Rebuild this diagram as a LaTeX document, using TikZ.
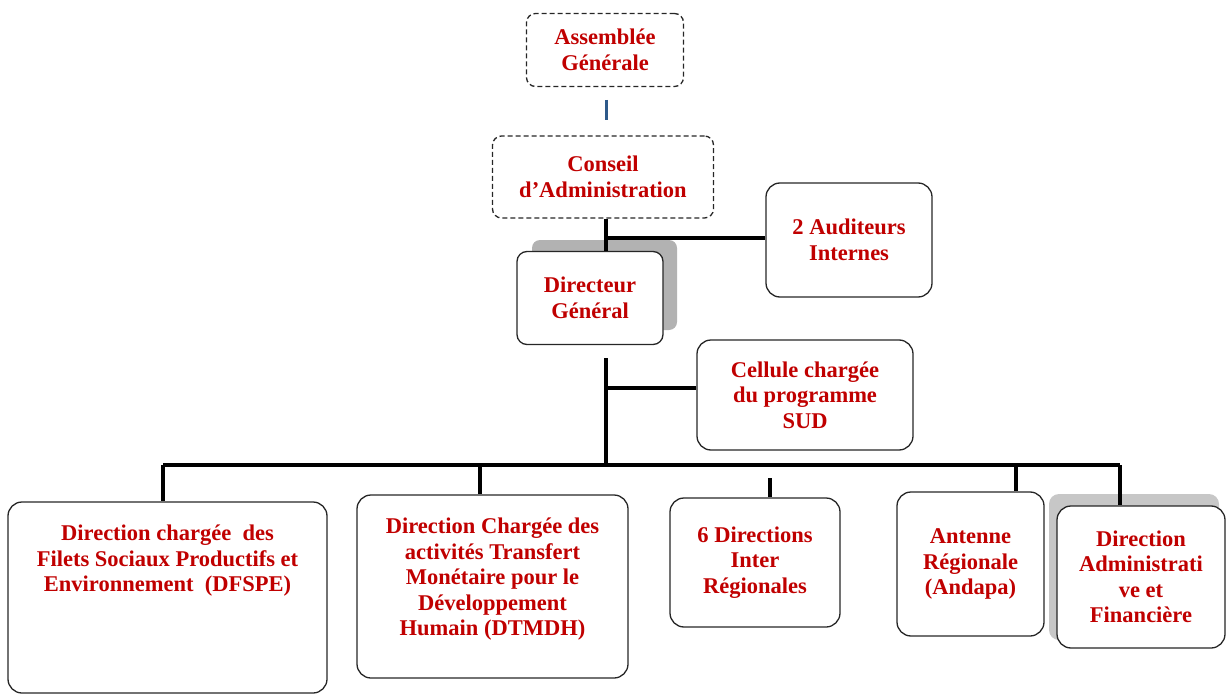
\documentclass[tikz,border=0pt]{standalone}
\usepackage{fontspec}
\setmainfont{Liberation Serif}
\definecolor{titlered}{HTML}{C00000}
\definecolor{linkblue}{HTML}{2E5A8A}

\begin{document}
\begin{tikzpicture}[x=1pt, y=-1pt,
  every node/.style={font=\bfseries\fontsize{22.5}{25.5}\selectfont, text=titlered, align=center},
  box/.style={draw=black!85, line width=1.3pt, rounded corners=14pt, inner sep=0pt},
  dashbox/.style={box, dash pattern=on 5pt off 3pt, rounded corners=9pt},
  toptext/.style={label={[anchor=north, yshift=-20pt]north:#1}},
  link/.style={line width=4.5pt, black}]
\useasboundingbox (0,0) rectangle (1226,695);
% shadows
\fill[black!30, rounded corners=8pt] (532,240) rectangle (677,330);
\fill[black!22, rounded corners=10pt] (1049,494) rectangle (1219,640);
% top levels
\node[dashbox, minimum width=157pt, minimum height=73pt] (AG) at (605,50) {Assemblée\\Générale};
\node[dashbox, minimum width=221pt, minimum height=82pt] (CA) at (603,177) {Conseil\\d’Administration};
\node[box, fill=white, minimum width=146pt, minimum height=93pt, rounded corners=10pt] (DG) at (590,298) {Directeur\\Général};
\node[box, minimum width=166pt, minimum height=114pt] (AUD) at (849,240) {2 Auditeurs\\Internes};
\node[box, minimum width=216pt, minimum height=110pt] (CEL) at (805,395) {Cellule chargée\\du programme\\SUD};
% directions
\node[box, minimum width=319pt, minimum height=191pt,
  toptext={Direction chargée~~des\\Filets Sociaux Productifs et\\Environnement~~(DFSPE)}] (DFSPE) at (167.5,597.5) {};
\node[box, minimum width=271pt, minimum height=183pt,
  toptext={Direction Chargée des\\activités Transfert\\Monétaire pour le\\Développement\\Humain (DTMDH)}] (DTMDH) at (492.5,586.5) {};
\node[box, minimum width=170pt, minimum height=129pt] (DIR) at (755,562.5) {6 Directions\\Inter\\Régionales};
\node[box, minimum width=147pt, minimum height=144pt] (ANT) at (970.5,564) {Antenne\\Régionale\\(Andapa)};
\node[box, fill=white, minimum width=168pt, minimum height=142pt] (DAF) at (1141,577) {Direction\\Administrati\\ve et\\Financière};
% connectors
\coordinate (J1) at (606,238);
\coordinate (J2) at (606,388);
\coordinate (BUS) at (606,465);
\coordinate (BL) at (163,465);
\coordinate (BR) at (1120,465);
\draw[linkblue, line width=3pt] (606,100) -- (606,120);
\draw[link] (CA.south -| J1) -- (J1) -- (DG.north -| J1);
\draw[link] (J1) -- (AUD.west |- J1);
\draw[link] (606,358) -- (BUS);
\draw[link] (J2) -- (CEL.west |- J2);
\draw[link] (BL) -- (BR);
\draw[link] (BL) -- (DFSPE.north -| BL);
\draw[link] (480,465) -- (DTMDH.north -| 480,0);
\draw[link] (770,478) -- (DIR.north -| 770,0);
\draw[link] (1016,465) -- (ANT.north -| 1016,0);
\draw[link] (BR) -- (DAF.north -| BR);
\end{tikzpicture}
\end{document}
